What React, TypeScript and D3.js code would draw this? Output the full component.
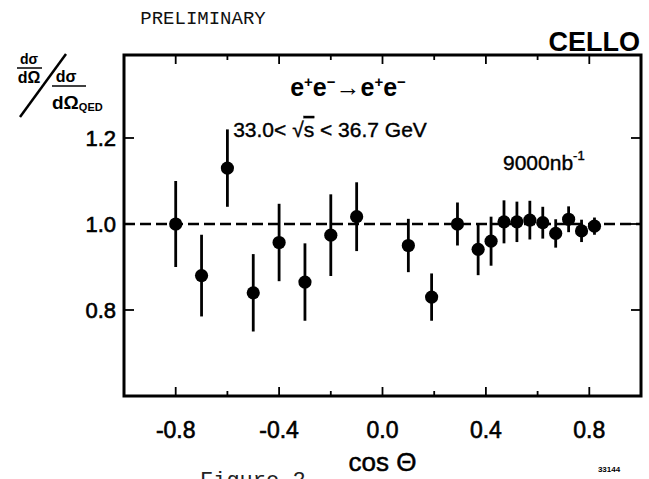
import * as d3 from "d3";

// cos(theta) bin centres, ratio to QED and the error on it
const cosTheta = [-0.8, -0.7, -0.6, -0.5, -0.4, -0.3, -0.2, -0.1, 0.1, 0.19, 0.29, 0.37, 0.42, 0.47, 0.52, 0.57, 0.62, 0.67, 0.72, 0.77, 0.82];
const ratio = [1.0, 0.88, 1.13, 0.84, 0.957, 0.865, 0.974, 1.017, 0.95, 0.83, 1.0, 0.941, 0.96, 1.005, 1.005, 1.009, 1.003, 0.978, 1.011, 0.984, 0.995];
const ratioErr = [0.1, 0.095, 0.09, 0.09, 0.09, 0.09, 0.095, 0.08, 0.062, 0.055, 0.05, 0.06, 0.057, 0.05, 0.047, 0.045, 0.037, 0.033, 0.03, 0.026, 0.02];

const xTicks = [-0.8, -0.6, -0.4, -0.2, 0.0, 0.2, 0.4, 0.6, 0.8];
const xLabels = ["-0.8", "-0.4", "0.0", "0.4", "0.8"];
const yTicks = [0.8, 1.0, 1.2];

const W = 649;
const H = 479;

const sans = "'Liberation Sans', Arial, sans-serif";
const mono = "'Liberation Mono', 'Courier New', monospace";

export default function App() {
  const x = d3.scaleLinear().domain([-1, 1]).range([124, 641]);
  const y = d3.scaleLinear().domain([0.6, 1.393]).range([396, 55]);

  const [x0, x1] = x.range();
  const [yb, yt] = y.range();

  const points = cosTheta.map((c, i) => ({ c, v: ratio[i], e: ratioErr[i] }));

  return (
    <svg width={W} height={H} style={{ position: "absolute", left: 0, top: 0, background: "#fff" }}>
      {/* headers */}
      <text x={203} y={24} fontFamily={mono} fontSize={19} textAnchor="middle" fill="#111">PRELIMINARY</text>
      <text x={640} y={51} fontFamily={sans} fontSize={27} fontWeight="bold" textAnchor="end" fill="#000">CELLO</text>

      {/* y axis title: (dσ/dΩ) / (dσ/dΩ_QED) */}
      <g fontFamily={sans} fontWeight="bold" fill="#000">
        <text x={29} y={64} fontSize={14} textAnchor="middle">dσ</text>
        <line x1={17} x2={42} y1={68} y2={68} stroke="#000" strokeWidth={1.5} />
        <text x={29} y={83} fontSize={16} textAnchor="middle">dΩ</text>
        <line x1={66} y1={54} x2={20} y2={117} stroke="#000" strokeWidth={2.5} />
        <text x={66} y={82} fontSize={16} textAnchor="middle">dσ</text>
        <line x1={52} x2={86} y1={86} y2={86} stroke="#000" strokeWidth={1.5} />
        <text x={52} y={109} fontSize={19}>dΩ<tspan fontSize={11} dy={2}>QED</tspan></text>
      </g>

      {/* frame */}
      <rect x={x0} y={yt} width={x1 - x0} height={yb - yt} fill="none" stroke="#000" strokeWidth={3} />

      {/* x ticks, bottom and top, pointing in */}
      {xTicks.map((t) => {
        const big = Math.abs(Math.round(t * 10)) % 4 === 0;
        const len = big ? 9 : 5;
        return (
          <g key={t} stroke="#000" strokeWidth={1.8}>
            <line x1={x(t)} x2={x(t)} y1={yb} y2={yb - len} />
            <line x1={x(t)} x2={x(t)} y1={yt} y2={yt + len} />
          </g>
        );
      })}
      {xLabels.map((l) => (
        <text key={l} x={x(+l)} y={438} fontFamily={sans} fontSize={23} textAnchor="middle" fill="#000" stroke="#000" strokeWidth={0.6}>{l}</text>
      ))}

      {/* y ticks, left and right */}
      {yTicks.map((t) => (
        <g key={t}>
          <line x1={x0} x2={x0 + 10} y1={y(t)} y2={y(t)} stroke="#000" strokeWidth={1.8} />
          <line x1={x1} x2={x1 - 10} y1={y(t)} y2={y(t)} stroke="#000" strokeWidth={1.8} />
          <text x={116} y={y(t) + 8} fontFamily={sans} fontSize={22} textAnchor="end" fill="#000" stroke="#000" strokeWidth={0.6}>{t.toFixed(1)}</text>
        </g>
      ))}

      {/* QED expectation */}
      <line x1={x0} x2={x1} y1={y(1)} y2={y(1)} stroke="#000" strokeWidth={2.4} strokeDasharray="11,5" />

      {/* data */}
      {points.map((p, i) => (
        <g key={i}>
          <line x1={x(p.c)} x2={x(p.c)} y1={y(p.v + p.e)} y2={y(p.v - p.e)} stroke="#000" strokeWidth={2.8} />
          <circle cx={x(p.c)} cy={y(p.v)} r={6.6} fill="#000" />
        </g>
      ))}

      {/* annotations */}
      <g fontFamily={sans} fontWeight="bold" fill="#000">
        <text x={348} y={96} fontSize={25} textAnchor="middle">
          e<tspan dy={-9} fontSize={15}>+</tspan><tspan dy={9}>e</tspan><tspan dy={-9} fontSize={15}>−</tspan>
          <tspan dy={9}>→e</tspan><tspan dy={-9} fontSize={15}>+</tspan><tspan dy={9}>e</tspan><tspan dy={-9} fontSize={15}>−</tspan>
        </text>
      </g>
      <text x={330} y={137} fontFamily={sans} fontSize={21} textAnchor="middle" fill="#000" stroke="#000" strokeWidth={0.4}>
        33.0&lt; √<tspan textDecoration="overline">s</tspan> &lt; 36.7 GeV
      </text>
      <text x={503} y={170} fontFamily={sans} fontSize={21} fill="#000" stroke="#000" strokeWidth={0.4}>9000nb<tspan dy={-10} fontSize={13}>-1</tspan></text>

      {/* x axis title */}
      <text x={x(0)} y={471} fontFamily={sans} fontSize={26} textAnchor="middle" fill="#000" stroke="#000" strokeWidth={0.5}>cos Θ</text>
      <text x={609} y={472} fontFamily={sans} fontSize={8} fontWeight="bold" textAnchor="middle" fill="#000">33144</text>
      <text x={200} y={487} fontFamily={mono} fontSize={22} fill="#222">Figure 2</text>
    </svg>
  );
}
